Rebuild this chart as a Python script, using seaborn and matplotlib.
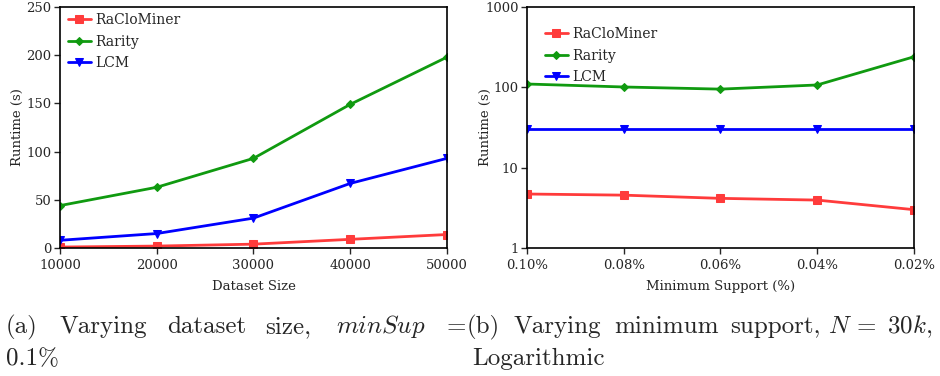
import matplotlib
matplotlib.use("Agg")
import matplotlib.pyplot as plt
import seaborn as sns
import pandas as pd
from matplotlib.ticker import FixedLocator, FixedFormatter, NullLocator

# ---- data ----
series = ["RaCloMiner", "Rarity", "LCM"]
dataset_sizes = [10000, 20000, 30000, 40000, 50000]
size_raclominer = [1, 2, 4, 9, 14]
size_rarity = [44, 63, 93, 149, 198]
size_lcm = [8, 15, 31, 67, 93]

min_supports = ["0.10%", "0.08%", "0.06%", "0.04%", "0.02%"]
sup_raclominer = [4.7, 4.55, 4.15, 3.95, 3.0]
sup_rarity = [110, 101, 95, 107, 240]
sup_lcm = [30, 30, 30, 30, 30]

left_yticks = [0, 50, 100, 150, 200, 250]
right_yticks = [1, 10, 100, 1000]

colors = {"RaCloMiner": "#ff3b3b", "Rarity": "#109a10", "LCM": "#0000ff"}
markers = {"RaCloMiner": "s", "Rarity": "D", "LCM": "v"}
msizes = {"RaCloMiner": 5.5, "Rarity": 4.5, "LCM": 6}

df_a = pd.DataFrame({
    "x": dataset_sizes * 3,
    "y": size_raclominer + size_rarity + size_lcm,
    "method": sum([[s] * 5 for s in series], []),
})
df_b = pd.DataFrame({
    "x": min_supports * 3,
    "y": sup_raclominer + sup_rarity + sup_lcm,
    "method": sum([[s] * 5 for s in series], []),
})

sns.set_theme(style="white")
plt.rcParams["font.family"] = ["DejaVu Serif"]
plt.rcParams["mathtext.fontset"] = "cm"
plt.rcParams["axes.edgecolor"] = "black"
plt.rcParams["axes.linewidth"] = 1.2

fig = plt.figure(figsize=(9.4, 3.76), dpi=100)
ax1 = fig.add_axes([0.0638, 0.3404, 0.4117, 0.641])
ax2 = fig.add_axes([0.5606, 0.3404, 0.4117, 0.641])

for ax, df in ((ax1, df_a), (ax2, df_b)):
    for s in series:
        sub = df[df["method"] == s]
        sns.lineplot(data=sub, x="x", y="y", ax=ax, color=colors[s], marker=markers[s],
                     markersize=msizes[s], markeredgecolor=colors[s], linewidth=2.0,
                     label=s, sort=False)

# left axes
ax1.set_xlim(dataset_sizes[0], dataset_sizes[-1])
ax1.set_ylim(0, 250)
ax1.set_xticks(dataset_sizes)
ax1.set_yticks(left_yticks)
ax1.set_xlabel("Dataset Size", fontsize=9.5, labelpad=6)
ax1.set_ylabel("Runtime (s)", fontsize=9.5)
ax1.yaxis.set_label_coords(-0.093, 0.5)

# right axes
ax2.set_yscale("log")
ax2.set_ylim(1, 1000)
ax2.set_xlim(0, 4)
ax2.yaxis.set_major_locator(FixedLocator(right_yticks))
ax2.yaxis.set_major_formatter(FixedFormatter([str(t) for t in right_yticks]))
ax2.yaxis.set_minor_locator(NullLocator())
ax2.set_xlabel("Minimum Support (%)", fontsize=9.5, labelpad=6)
ax2.set_ylabel("Runtime (s)", fontsize=9.5)
ax2.yaxis.set_label_coords(-0.09, 0.5)

for ax in (ax1, ax2):
    ax.tick_params(axis="both", which="major", direction="out", length=4, width=1,
                   labelsize=9.5, bottom=True, left=True, top=False, right=False, pad=2)
    ax.tick_params(axis="x", pad=4)
    for sp in ax.spines.values():
        sp.set_color("black")
        sp.set_linewidth(1.2)

leg_kw = dict(loc="upper left", frameon=False, fontsize=10, handlelength=1.65,
              borderaxespad=0, borderpad=0, labelspacing=0.55, handletextpad=0.35)
ax1.legend(bbox_to_anchor=(0.02, 0.975), **leg_kw)
ax2.legend(bbox_to_anchor=(0.0465, 0.917), **leg_kw)

# captions
H = 376.0
W = 940.0
y1 = 1 - 333 / H
y2 = 1 - 365 / H
fs = 18
cap = dict(fontsize=fs, family="cmr10", va="baseline", ha="left")
words = [
    ("(a)", 6, y1), ("Varying", 60, y1), ("dataset", 167, y1), ("size,", 265, y1),
    (r"$minSup$", 336, y1), ("=", 447, y1), ("0.1%", 6, y2),
    ("(b)", 467, y1), ("Varying", 514, y1), ("minimum", 614, y1), ("support,", 730, y1),
    (r"$N$", 828, y1), ("=", 857, y1), (r"$30k$,", 887, y1), ("Logarithmic", 472, y2),
]
for txt, x, y in words:
    fig.text(x / W, y, txt, **cap)

fig.savefig("out.png", dpi=100)
